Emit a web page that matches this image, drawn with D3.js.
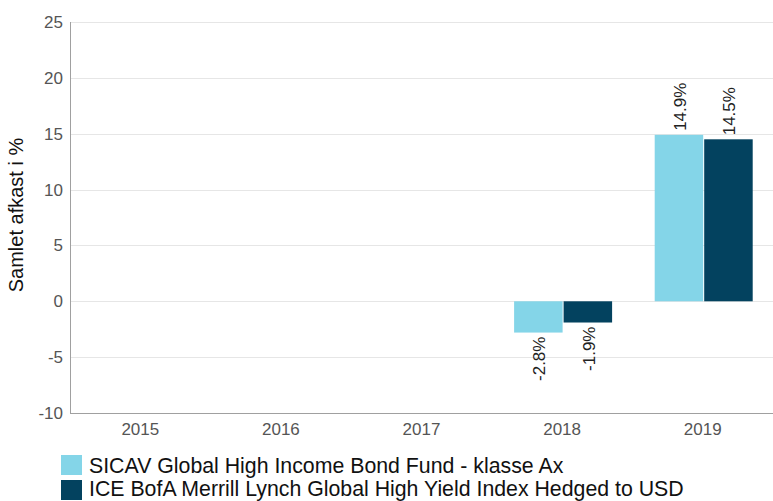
<!DOCTYPE html>
<html><head><meta charset="utf-8">
<script src="https://cdn.jsdelivr.net/npm/d3@7"></script>
<style>body{margin:0;background:#fff}svg{display:block;font-family:"Liberation Sans",Arial,sans-serif}</style>
</head><body>
<script>
const years = ["2015","2016","2017","2018","2019"];
const seriesNames = ["SICAV Global High Income Bond Fund - klasse Ax","ICE BofA Merrill Lynch Global High Yield Index Hedged to USD"];
const fundValues = [null,null,null,-2.8,14.9];
const indexValues = [null,null,null,-1.9,14.5];
const yTicks = [-10,-5,0,5,10,15,20,25];
const colors = ["#84D5E8","#03425F"];

(function(){
const W=773,H=501;
const FF="Liberation Sans, Arial, sans-serif";
const svg=d3.select("body").append("svg").attr("width",W).attr("height",H);
const mLeft=70,mRight=773,mTop=22,mBottom=413;
const x=d3.scaleBand().domain(years).range([mLeft,mRight]);
const xs=d3.scaleBand().domain([0,1]).range([0,99]);
const y=d3.scaleLinear().domain([-10,25]).range([mBottom,mTop]);

svg.append("g").selectAll("line").data(yTicks.filter(t=>t>-10)).join("line")
 .attr("x1",mLeft).attr("x2",mRight).attr("y1",d=>Math.round(y(d))+0.5).attr("y2",d=>Math.round(y(d))+0.5)
 .attr("stroke","#e6e6e6").attr("stroke-width",1);
svg.append("line").attr("x1",mLeft+0.5).attr("x2",mLeft+0.5).attr("y1",mTop).attr("y2",mBottom).attr("stroke","#a0a0a0");
svg.append("line").attr("x1",mLeft).attr("x2",mRight).attr("y1",mBottom+0.5).attr("y2",mBottom+0.5).attr("stroke","#a0a0a0");

const yAxis=d3.axisLeft(y).tickValues(yTicks).tickFormat(d=>String(d)).tickSize(0).tickPadding(7);
const gy=svg.append("g").attr("transform",`translate(${mLeft},0)`).call(yAxis);
gy.select(".domain").remove();
gy.selectAll("text").attr("font-size",17).attr("fill","#555").attr("font-family",FF);

const xAxis=d3.axisBottom(x).tickSize(0).tickPadding(10);
const gx=svg.append("g").attr("transform",`translate(0,${mBottom})`).call(xAxis);
gx.select(".domain").remove();
gx.selectAll("text").attr("font-size",17).attr("fill","#555").attr("font-family",FF);

svg.append("text").attr("transform",`translate(23,215) rotate(-90)`)
 .attr("text-anchor","middle").attr("font-size",20).attr("fill","#111").text("Samlet afkast i %");

const series=[fundValues,indexValues];
series.forEach((vals,si)=>{
 const data=years.map((yr,i)=>({yr,v:vals[i]})).filter(d=>d.v!=null);
 const g=svg.append("g");
 g.selectAll("rect").data(data).join("rect")
  .attr("x",d=>x(d.yr)+x.bandwidth()/2-48+xs(si))
  .attr("width",xs.bandwidth()-1)
  .attr("y",d=>y(Math.max(0,d.v)))
  .attr("height",d=>Math.abs(y(d.v)-y(0)))
  .attr("fill",colors[si]);
 g.selectAll("text").data(data).join("text")
  .attr("transform",d=>{
    const cx=x(d.yr)+x.bandwidth()/2-48+xs(si)+(xs.bandwidth()-1)/2+7;
    const yy=d.v>=0? y(d.v)-4 : y(d.v)+4;
    return `translate(${cx},${yy}) rotate(-90)`;})
  .attr("text-anchor",d=>d.v>=0?"start":"end")
  .attr("font-size",17).attr("fill","#222")
  .text(d=>d.v.toFixed(1)+"%");
});

const lg=svg.append("g");
seriesNames.forEach((n,i)=>{
 lg.append("rect").attr("x",61).attr("y",455+i*25).attr("width",21).attr("height",20).attr("fill",colors[i]);
 lg.append("text").attr("x",89).attr("y",473+i*22.5).attr("font-size",21.3).attr("fill","#111").text(n);
});
})();
</script>
</body></html>
